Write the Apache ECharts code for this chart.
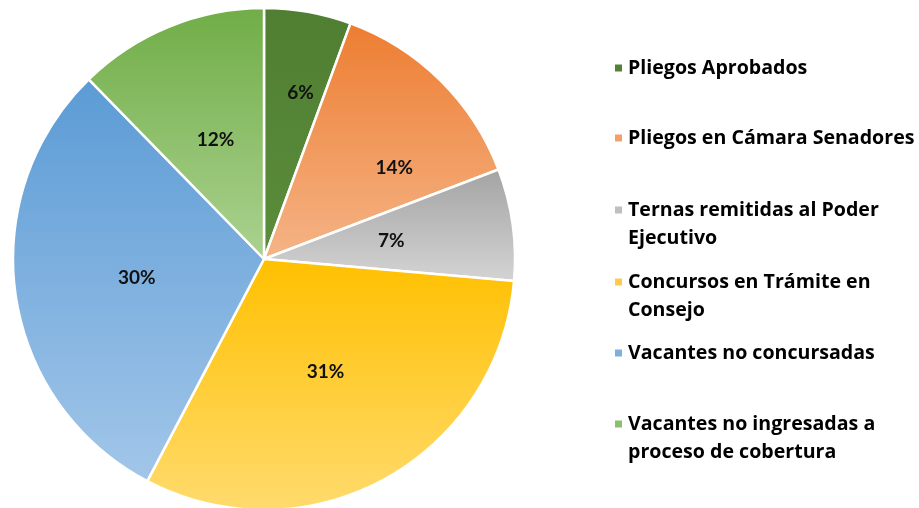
<!DOCTYPE html>
<html>
<head>
<meta charset="utf-8">
<script src="https://cdn.jsdelivr.net/npm/echarts@6/dist/echarts.min.js"></script>
<style>
  html, body { margin: 0; padding: 0; background: #fff; }
  #chart { width: 919px; height: 508px; }
</style>
</head>
<body>
<div id="chart"></div>
<script>
// categorías y valores (porcentaje)
const categories = [
  "Pliegos Aprobados",
  "Pliegos en Cámara Senadores",
  "Ternas remitidas al Poder Ejecutivo",
  "Concursos en Trámite en Consejo",
  "Vacantes no concursadas",
  "Vacantes no ingresadas a proceso de cobertura"
];
const values = [5.6, 13.6, 7.2, 31.3, 30.0, 12.3];
// texto de leyenda partido en líneas
const legendLines = [
  ["Pliegos Aprobados"],
  ["Pliegos en Cámara Senadores"],
  ["Ternas remitidas al Poder", "Ejecutivo"],
  ["Concursos en Trámite en", "Consejo"],
  ["Vacantes no concursadas"],
  ["Vacantes no ingresadas a", "proceso de cobertura"]
];

const topColors = ["#507e32", "#ed7d31", "#a3a3a3", "#ffc000", "#5b9bd5", "#70ad47"];
const bottomColors = ["#5b8d3b", "#f5b487", "#d4d4d4", "#ffdb6e", "#a2c6e9", "#abd290"];
const legendColors = ["#548235", "#f4a06a", "#bfbfbf", "#ffc94a", "#7eb0df", "#8cc06c"];
// centro de la primera línea de cada entrada
const legendY = [68, 138, 210, 282, 353, 424];
const labelOffsets = [[14, -40], [40, 0], [0, 0], [0, 0], [0, 0], [0, 0]];

const lineH = 28;

const chart = echarts.init(document.getElementById("chart"));

const data = categories.map((name, i) => ({
  name,
  value: values[i],
  itemStyle: {
    color: new echarts.graphic.LinearGradient(0, 0, 0, 1, [
      { offset: 0, color: topColors[i] },
      { offset: 1, color: bottomColors[i] }
    ])
  },
  label: { offset: labelOffsets[i] }
}));

const legends = categories.map((name, i) => {
  const lines = legendLines[i];
  const twoLines = lines.length > 1;
  return {
    orient: "vertical",
    left: 613,
    top: legendY[i] - (twoLines ? 1.5 : 0.5) * lineH,
    padding: 0,
    icon: "rect",
    itemWidth: 9,
    itemHeight: 9,
    selectedMode: false,
    formatter: () => (twoLines ? "\n" : "") + lines.join("\n"),
    textStyle: {
      fontFamily: "Open Sans",
      fontWeight: "bold",
      fontSize: 19.6,
      lineHeight: lineH,
      color: "#000"
    },
    data: [{ name, itemStyle: { color: legendColors[i] } }]
  };
});

const option = {
  animation: false,
  legend: legends,
  series: [
    {
      type: "pie",
      center: [264, 259],
      radius: [0, 251],
      startAngle: 90,
      clockwise: true,
      avoidLabelOverlap: false,
      itemStyle: {
        borderColor: "#fff",
        borderWidth: 2.5
      },
      label: {
        position: "inside",
        color: "#111",
        fontFamily: "Lato",
        fontWeight: "bold",
        fontSize: 19,
        formatter: p => Math.round(p.percent) + "%"
      },
      labelLine: { show: false },
      emphasis: { disabled: true },
      data
    }
  ]
};

chart.setOption(option);
</script>
</body>
</html>
